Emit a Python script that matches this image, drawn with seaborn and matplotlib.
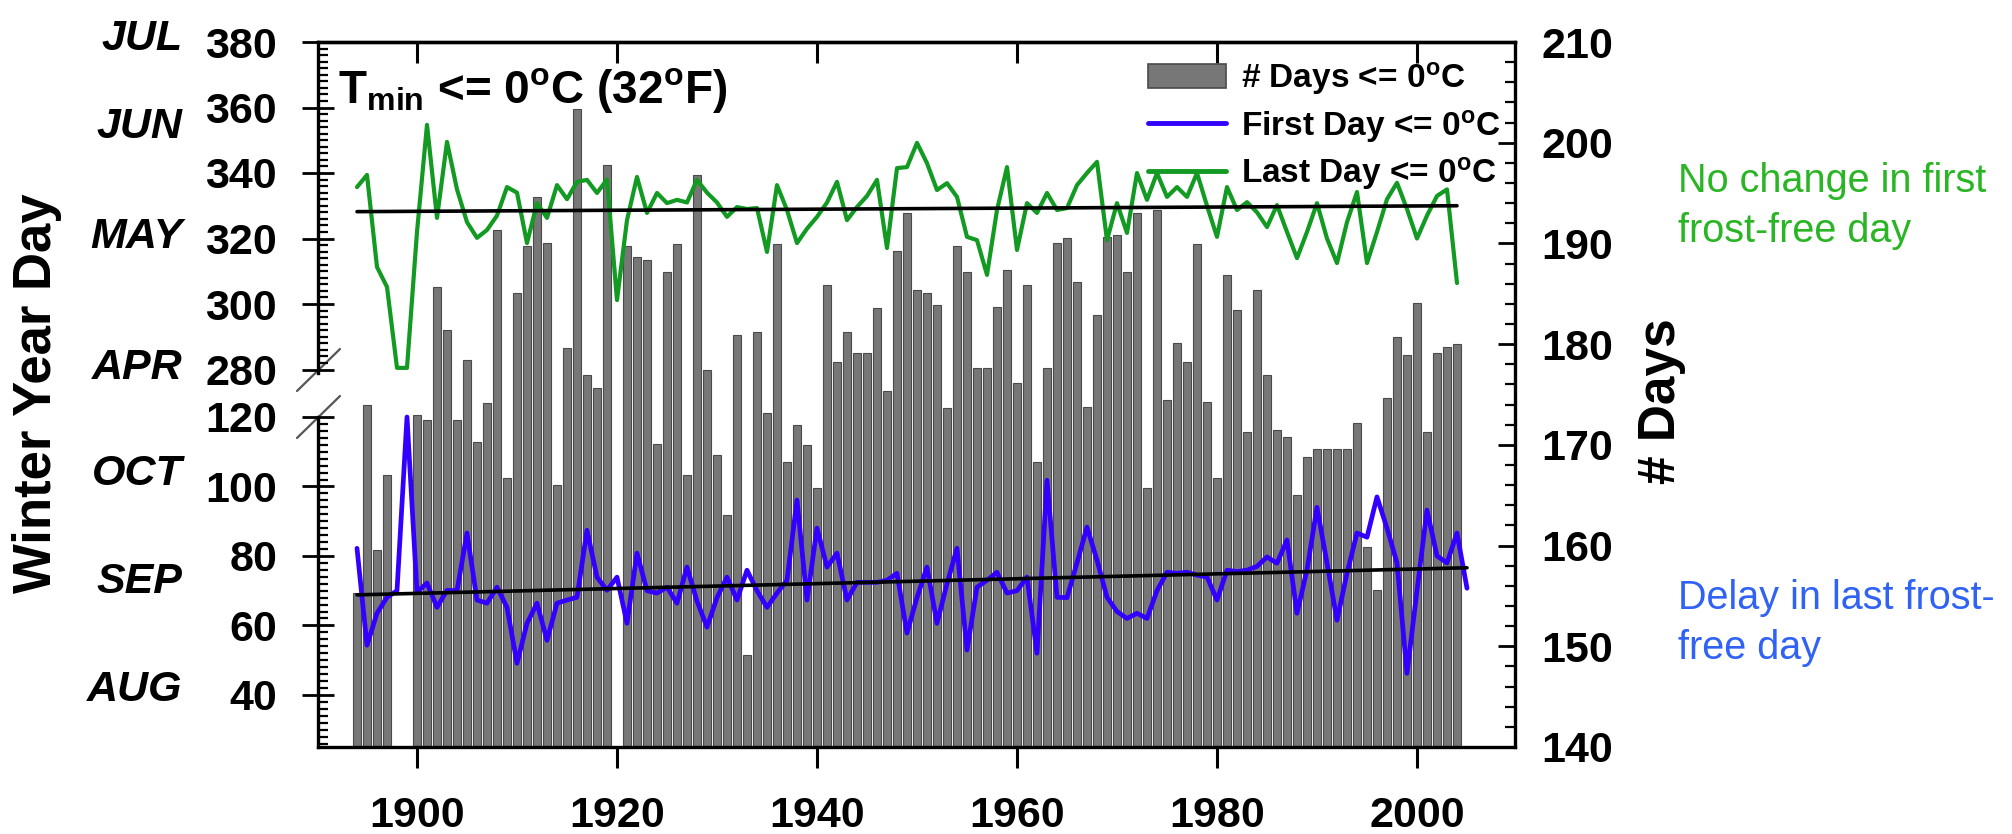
import numpy as np
import pandas as pd
import matplotlib
matplotlib.use("Agg")
import matplotlib.pyplot as plt
import seaborn as sns
from matplotlib.lines import Line2D
from matplotlib.patches import Patch
from matplotlib.ticker import MultipleLocator
import matplotlib.transforms as mtransforms

# ---------------- data ----------------
years = list(range(1894, 2006))
nan = np.nan
days_le0 = [155.3, 174.0, 159.6, 167.0, nan, nan, 173.0, 172.5, 185.7, 181.4,
            172.5, 178.4, 170.3, 174.2, 191.3, 166.7, 185.1, 189.7, 194.6, 190.0,
            166.0, 179.6, 203.3, 176.9, 175.6, 197.8, nan, 189.7, 188.7, 188.4,
            170.1, 187.2, 189.9, 167.0, 196.8, 177.4, 169.0, 163.0, 180.9, 149.1,
            181.2, 173.2, 189.9, 168.3, 172.0, 170.0, 165.7, 185.9, 178.2, 181.2,
            179.1, 179.1, 183.6, 175.3, 189.2, 193.0, 185.4, 185.1, 183.9, 173.7,
            189.7, 187.2, 177.6, 177.6, 183.7, 187.4, 176.1, 185.9, 168.3, 177.6,
            190.0, 190.5, 186.2, 173.8, 182.9, 190.6, 190.8, 187.2, 193.0, 165.7,
            193.3, 174.5, 180.1, 178.2, 189.9, 174.3, 166.7, 186.9, 183.4, 171.3,
            185.4, 176.9, 171.5, 170.8, 165.0, 168.8, 169.6, 169.6, 169.6, 169.6,
            172.2, 159.9, 155.6, 174.7, 180.7, 178.9, 184.1, 171.3, 179.1, 179.7,
            180.0, nan]
last_day = [335.7, 339.4, 311.3, 305.2, 280.5, 280.5, 322.0, 354.7, 326.3, 349.5,
            335.0, 325.0, 320.2, 322.6, 327.0, 335.7, 334.0, 318.6, 330.8, 326.3,
            336.3, 332.0, 337.3, 337.9, 333.9, 338.0, 301.2, 325.6, 338.8, 327.8,
            333.9, 330.8, 331.8, 331.0, 337.9, 334.0, 331.0, 326.6, 329.6, 329.0,
            329.3, 315.9, 336.3, 328.7, 318.6, 323.0, 326.6, 331.0, 337.3, 325.6,
            329.6, 333.0, 337.9, 317.1, 341.5, 341.8, 349.2, 343.0, 334.8, 336.9,
            332.7, 320.5, 319.5, 308.9, 328.7, 341.8, 316.5, 330.8, 327.8, 333.9,
            328.7, 329.3, 336.3, 340.0, 343.4, 319.5, 330.8, 321.7, 340.0, 331.8,
            340.0, 332.7, 335.7, 332.7, 340.0, 330.0, 320.5, 335.7, 328.7, 331.1,
            328.0, 323.5, 330.2, 322.0, 314.0, 322.0, 330.8, 320.0, 312.5, 325.0,
            334.2, 312.5, 322.0, 332.0, 337.0, 329.0, 320.0, 327.0, 333.0, 335.0,
            306.4, nan]
first_day = [82.2, 54.3, 63.5, 68.1, 70.0, 120.0, 69.6, 72.2, 65.2, 70.1,
             70.0, 86.6, 67.3, 66.4, 71.0, 65.2, 49.1, 60.6, 66.4, 55.7,
             66.4, 67.3, 68.1, 87.4, 73.9, 70.1, 73.9, 60.6, 80.8, 70.0,
             69.3, 71.0, 66.4, 76.8, 67.0, 59.5, 68.0, 73.9, 67.3, 75.9,
             70.0, 65.2, 69.3, 73.0, 96.1, 67.3, 88.0, 76.8, 80.8, 67.3,
             72.4, 72.4, 72.4, 73.0, 75.0, 57.8, 68.0, 76.8, 60.6, 72.0,
             82.2, 52.9, 71.0, 73.0, 75.3, 69.3, 70.0, 73.9, 52.0, 101.8,
             68.1, 68.0, 78.0, 88.3, 78.8, 68.1, 64.0, 62.0, 63.5, 62.0,
             70.0, 75.3, 75.0, 75.3, 74.5, 73.9, 67.3, 75.9, 75.5, 75.9,
             77.0, 79.7, 77.9, 84.6, 63.5, 76.0, 94.0, 78.0, 61.5, 75.0,
             86.6, 85.4, 97.0, 88.0, 78.0, 46.2, 70.0, 93.2, 80.0, 78.0,
             86.6, 70.7]

trend_first_years = [1894, 2005]
trend_first = [68.8, 76.6]
trend_last_years = [1894, 2004]
trend_last = [328.2, 330.0]

x_ticks = [1900, 1920, 1940, 1960, 1980, 2000]
upper_ticks = [280, 300, 320, 340, 360, 380]
lower_ticks = [40, 60, 80, 100, 120]
right_ticks = [140, 150, 160, 170, 180, 190, 200, 210]
upper_months = ["JUL", "JUN", "MAY", "APR"]
upper_month_pos = [381.0, 354.0, 320.5, 280.5]
lower_months = ["OCT", "SEP", "AUG"]
lower_month_pos = [103.5, 72.5, 41.4]

legend_labels = [r"# Days <= 0$^{\rm o}$C", r"First Day <= 0$^{\rm o}$C", r"Last Day <= 0$^{\rm o}$C"]
title_text = r"T$_{\rm min}$ <= 0$^{\rm o}$C (32$^{\rm o}$F)"
note_green = ["No change in first", "frost-free day"]
note_blue = ["Delay in last frost-", "free day"]

# ---------------- style ----------------
sns.set_theme(style="white")
plt.rcParams["font.family"] = ["Liberation Sans", "DejaVu Sans"]
plt.rcParams["font.weight"] = "bold"
plt.rcParams["mathtext.fontset"] = "custom"
plt.rcParams["mathtext.rm"] = "Liberation Sans:bold"
plt.rcParams["mathtext.bf"] = "Liberation Sans:bold"
plt.rcParams["mathtext.it"] = "Liberation Sans:italic:bold"
plt.rcParams["text.color"] = "black"
plt.rcParams["axes.edgecolor"] = "black"
plt.rcParams["xtick.color"] = "black"
plt.rcParams["ytick.color"] = "black"

BAR_FACE = "#777777"
BAR_EDGE = "#4a4a4a"
GREEN = "#129a22"
BLUE = "#3300ff"
NOTE_GREEN = "#2ab524"
NOTE_BLUE = "#2f62f5"

W, H = 2012, 834
fig = plt.figure(figsize=(W / 100, H / 100), dpi=100)
fig.patch.set_facecolor("white")


def fx(px):
    return px / W


def fy(py):
    return 1 - py / H


L, R = 318, 1515
TOP, BOT = 42, 747
UP_BOT = 42 + 101 * 3.275
LOW_TOP = 417

ax = fig.add_axes([fx(L), fy(BOT), (R - L) / W, (BOT - TOP) / H])
ax_up = fig.add_axes([fx(L), fy(UP_BOT), (R - L) / W, (UP_BOT - TOP) / H], zorder=2)
ax_low = fig.add_axes([fx(L), fy(BOT), (R - L) / W, (BOT - LOW_TOP) / H], zorder=2)
for a in (ax_up, ax_low):
    a.patch.set_visible(False)

XLIM = (1890.1, 2009.8)

# ---------------- bars (# days, right axis) ----------------
df = pd.DataFrame({"year": years, "days": days_le0, "first": first_day, "last": last_day})
dfb = df.dropna(subset=["days"])
sns.barplot(data=dfb, x="year", y="days", ax=ax, native_scale=True, color=BAR_FACE,
            saturation=1, edgecolor=BAR_EDGE, linewidth=0.8, width=0.8, errorbar=None)
ax.set_xlim(*XLIM)
ax.set_ylim(140, 210)
ax.set_xlabel("")
ax.set_ylabel("")
ax.yaxis.tick_right()
ax.set_yticks(right_ticks)
ax.yaxis.set_minor_locator(MultipleLocator(2))
ax.set_xticks(x_ticks)
ax.set_xticklabels([str(t) for t in x_ticks])
ax.tick_params(axis="y", which="major", direction="in", length=12, width=2,
               labelsize=31, pad=19, right=True, left=False)
ax.tick_params(axis="y", which="minor", direction="in", length=7, width=1.6, right=True, left=False)
ax.tick_params(axis="x", which="major", direction="out", length=15, width=2.2,
               labelsize=31, pad=20, bottom=True, top=False)
for lab in ax.get_xticklabels() + ax.get_yticklabels():
    lab.set_fontweight("bold")
ax.spines["left"].set_visible(False)
for s in ("top", "right", "bottom"):
    ax.spines[s].set_linewidth(2.4)
    ax.spines[s].set_color("black")
sec = ax.secondary_xaxis("top")
sec.set_xticks(x_ticks)
sec.tick_params(direction="in", length=15, width=2.2, labeltop=False)
sec.spines["top"].set_linewidth(2.4)

# ---------------- upper (last day) ----------------
sns.lineplot(data=df.dropna(subset=["last"]), x="year", y="last", ax=ax_up, color=GREEN,
             linewidth=3.0, clip_on=False)
sns.lineplot(x=trend_last_years, y=trend_last, ax=ax_up, color="black", linewidth=2.6)
ax_up.set_xlim(*XLIM)
ax_up.set_ylim(279, 380)
ax_up.set_yticks(upper_ticks)
ax_up.yaxis.set_minor_locator(MultipleLocator(2))

# ---------------- lower (first day) ----------------
sns.lineplot(data=df.dropna(subset=["first"]), x="year", y="first", ax=ax_low, color=BLUE,
             linewidth=3.4, clip_on=False)
sns.lineplot(x=trend_first_years, y=trend_first, ax=ax_low, color="black", linewidth=2.6)
ax_low.set_xlim(*XLIM)
ax_low.set_ylim(25, 120)
ax_low.set_yticks(lower_ticks)
ax_low.yaxis.set_minor_locator(MultipleLocator(2))

for a in (ax_up, ax_low):
    a.set_xlabel("")
    a.set_ylabel("")
    a.xaxis.set_visible(False)
    for s in ("top", "right", "bottom"):
        a.spines[s].set_visible(False)
    a.spines["left"].set_linewidth(2.4)
    a.spines["left"].set_color("black")
    a.tick_params(axis="y", which="major", direction="inout", length=23, width=2,
                  labelsize=31, pad=18, left=True, right=False)
    a.tick_params(axis="y", which="minor", direction="in", length=7, width=1.6,
                  left=True, right=False)
    for lab in a.get_yticklabels():
        lab.set_fontweight("bold")
    a.grid(False)
    leg = a.get_legend()
    if leg is not None:
        leg.remove()

# month labels
tr_up = mtransforms.blended_transform_factory(ax_up.transAxes, ax_up.transData)
for m, p in zip(upper_months, upper_month_pos):
    ax_up.text(-0.113, p, m, transform=tr_up, ha="right", va="center", fontsize=31,
               fontweight="bold", fontstyle="italic", clip_on=False)
tr_low = mtransforms.blended_transform_factory(ax_low.transAxes, ax_low.transData)
for m, p in zip(lower_months, lower_month_pos):
    ax_low.text(-0.113, p, m, transform=tr_low, ha="right", va="center", fontsize=31,
                fontweight="bold", fontstyle="italic", clip_on=False)

# axis break marks
for yc in (370, 417):
    fig.add_artist(Line2D([fx(297), fx(340)], [fy(yc + 21), fy(yc - 21)],
                          color="#555555", linewidth=1.6))

# axis titles
fig.text(fx(37), fy(393), "Winter Year Day", rotation=90, ha="center", va="center",
         fontsize=38, fontweight="bold")
fig.text(fx(1661), fy(401), "# Days", rotation=90, ha="center", va="center",
         fontsize=37, fontweight="bold")

# panel label
fig.text(fx(338), fy(103), title_text, ha="left", va="baseline", fontsize=33, fontweight="bold")

# legend
handles = [Patch(facecolor=BAR_FACE, edgecolor=BAR_EDGE, linewidth=1.2),
           Line2D([], [], color=BLUE, linewidth=3.5),
           Line2D([], [], color=GREEN, linewidth=3.5)]
fig.legend(handles, legend_labels, loc="upper left", bbox_to_anchor=(fx(1148), fy(60)),
           frameon=False, handlelength=2.35, handleheight=0.75,
           handletextpad=0.45, labelspacing=0.32, borderpad=0, borderaxespad=0,
           prop={"weight": "bold", "size": 24})

# annotations
for i, t in enumerate(note_green):
    fig.text(fx(1678), fy(192 + 50 * i), t, ha="left", va="baseline", fontsize=28.5,
             fontweight="normal", color=NOTE_GREEN)
for i, t in enumerate(note_blue):
    fig.text(fx(1678), fy(609 + 50 * i), t, ha="left", va="baseline", fontsize=28.5,
             fontweight="normal", color=NOTE_BLUE)

fig.savefig("out.png", dpi=100, facecolor="white")
